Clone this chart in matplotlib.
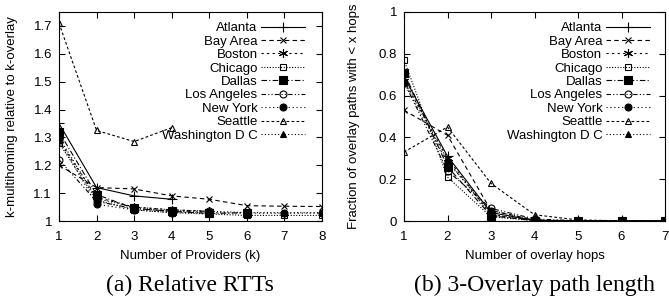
import numpy as np
import matplotlib
matplotlib.use("Agg")
import matplotlib.pyplot as plt

plt.rcParams['font.family'] = ['Liberation Sans', 'DejaVu Sans']

cities = ["Atlanta", "Bay Area", "Boston", "Chicago", "Dallas",
          "Los Angeles", "New York", "Seattle", "Washington D C"]

# (a) relative RTT vs number of providers k
rtt = {
    "Atlanta":        [1.35, 1.12, 1.09, 1.078],
    "Bay Area":       [1.20, 1.12, 1.115, 1.09, 1.078, 1.055, 1.053, 1.052],
    "Boston":         [1.29, 1.085, 1.05, 1.04, 1.035],
    "Chicago":        [1.28, 1.075, 1.04, 1.03, 1.025, 1.02, 1.02, 1.02],
    "Dallas":         [1.32, 1.095, 1.045, 1.035, 1.027, 1.03],
    "Los Angeles":    [1.22, 1.07, 1.045, 1.035, 1.035],
    "New York":       [1.29, 1.06, 1.04, 1.03, 1.03, 1.028, 1.028, 1.028],
    "Seattle":        [1.71, 1.325, 1.285, 1.335],
    "Washington D C": [1.30, 1.08, 1.05, 1.04, 1.035, 1.03, 1.03, 1.03],
}

# (b) fraction of overlay paths vs number of overlay hops
hops = {
    "Atlanta":        [0.69, 0.31, 0.04, 0.003, 0.0, 0.0, 0.0],
    "Bay Area":       [0.53, 0.41, 0.05, 0.005, 0.001, 0.0, 0.0],
    "Boston":         [0.67, 0.30, 0.03, 0.002, 0.0, 0.0, 0.0],
    "Chicago":        [0.77, 0.21, 0.02, 0.002, 0.0, 0.0, 0.0],
    "Dallas":         [0.71, 0.26, 0.025, 0.002, 0.0, 0.0, 0.0],
    "Los Angeles":    [0.665, 0.24, 0.06, 0.01, 0.001, 0.0, 0.0],
    "New York":       [0.66, 0.28, 0.05, 0.005, 0.001, 0.0, 0.0],
    "Seattle":        [0.33, 0.45, 0.18, 0.03, 0.005, 0.001, 0.0],
    "Washington D C": [0.68, 0.29, 0.03, 0.003, 0.0, 0.0, 0.0],
}

# gnuplot-ish monochrome styles
styles = {
    "Atlanta":        dict(ls='-', marker='+', mfc='k', ms=6.5),
    "Bay Area":       dict(ls=(0, (4, 3)), marker='x', mfc='k', ms=5),
    "Boston":         dict(ls=(0, (2, 3)), marker=(6, 2, 0), mfc='k', ms=6.5),
    "Chicago":        dict(ls=(0, (1, 1.5)), marker='s', mfc='none', ms=5),
    "Dallas":         dict(ls=(0, (5, 2, 1, 2)), marker='s', mfc='k', ms=6),
    "Los Angeles":    dict(ls=(0, (4, 2, 1, 2, 1, 2)), marker='o', mfc='none', ms=5),
    "New York":       dict(ls=(0, (1, 2.5)), marker='o', mfc='k', ms=5),
    "Seattle":        dict(ls=(0, (2.5, 2)), marker='^', mfc='none', ms=5),
    "Washington D C": dict(ls=(0, (1, 2)), marker='^', mfc='k', ms=5),
}


def draw(ax, data, gap_px, width_px):
    for c in cities:
        y = data[c]
        x = np.arange(1, len(y) + 1)
        st = styles[c]
        ax.plot(x, y, color='k', lw=0.8, ls=st['ls'], marker=st['marker'],
                mfc=st['mfc'], mec='k', ms=st['ms'], mew=0.8, label=c)
    ax.tick_params(direction='in', top=True, right=True, length=4, labelsize=9.5)
    ax.tick_params(axis='x', pad=7)
    ax.tick_params(axis='y', pad=5)
    for s in ax.spines.values():
        s.set_linewidth(0.8)
    ax.legend(loc='upper right', bbox_to_anchor=(1 - gap_px / width_px, 0.952),
              frameon=False, markerfirst=False, fontsize=9.5,
              handlelength=3.3, labelspacing=0.09, borderaxespad=0.0,
              handletextpad=0.3, borderpad=0.0)


fig = plt.figure(figsize=(6.69, 2.97), dpi=100)

ax1 = fig.add_axes([59 / 669, 1 - 221 / 297, 263 / 669, 209 / 297])
draw(ax1, rtt, 17, 263)
ax1.set_xlim(1, 8)
ax1.set_ylim(1, 1.75)
ax1.set_xticks(range(1, 9))
ax1.set_yticks([1, 1.1, 1.2, 1.3, 1.4, 1.5, 1.6, 1.7])
ax1.set_yticklabels(["1", "1.1", "1.2", "1.3", "1.4", "1.5", "1.6", "1.7"])
ax1.set_xlabel("Number of Providers (k)", fontsize=9.5)
ax1.set_ylabel("k-multihoming relative to k-overlay", fontsize=9.5)
ax1.xaxis.set_label_coords(0.5, -(256 - 221) / 209)
ax1.yaxis.set_label_coords(-(59 - 12) / 263, 0.5)

ax2 = fig.add_axes([404 / 669, 1 - 221 / 297, 261 / 669, 209 / 297])
draw(ax2, hops, 15, 261)
ax2.set_xlim(1, 7)
ax2.set_ylim(0, 1)
ax2.set_xticks(range(1, 8))
ax2.set_yticks([0, 0.2, 0.4, 0.6, 0.8, 1])
ax2.set_yticklabels(["0", "0.2", "0.4", "0.6", "0.8", "1"])
ax2.set_xlabel("Number of overlay hops", fontsize=9.5)
ax2.set_ylabel("Fraction of overlay paths with < x hops", fontsize=9.5)
ax2.xaxis.set_label_coords(0.5, -(256 - 221) / 209)
ax2.yaxis.set_label_coords(-(404 - 354) / 261, 0.5)
for a in (ax1, ax2):
    a.xaxis.label.set_va('center')
    a.yaxis.label.set_va('center')

serif = ['Liberation Serif', 'DejaVu Serif']
fig.text(190 / 669, 1 - 291 / 297, "(a) Relative RTTs", ha='center', va='baseline',
         fontsize=17, family=serif)
fig.text(535 / 669, 1 - 291 / 297, "(b) 3-Overlay path length", ha='center', va='baseline',
         fontsize=17, family=serif)

fig.savefig("out.png", dpi=100)
